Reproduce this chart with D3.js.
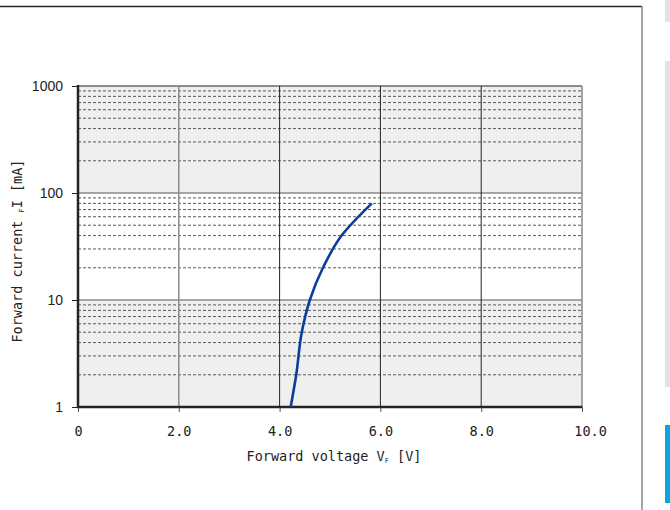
<!DOCTYPE html>
<html>
<head>
<meta charset="utf-8">
<script src="https://cdn.jsdelivr.net/npm/d3@7"></script>
<style>
  body { margin: 0; background: #fff; }
  svg { display: block; }
</style>
</head>
<body>
<div id="chart"></div>
<script>
var svgWidth = 670;
var svgHeight = 510;

// data
var voltage = [4.22, 4.33, 4.44, 4.60, 4.86, 5.23, 5.83];
var current = [1, 2, 5, 10, 20, 40, 80];
var xTicks = [0, 2, 4, 6, 8, 10];
var xTickLabels = ["0", "2.0", "4.0", "6.0", "8.0", "10.0"];
var yTicks = [1, 10, 100, 1000];
var yTickLabels = ["1", "10", "100", "1000"];
var decades = [1, 10, 100];
var bandFills = ["#efefef", "#ffffff", "#efefef"];

var margin = { top: 86, right: 88, bottom: 103, left: 78 };
var width = svgWidth - margin.left - margin.right;
var height = svgHeight - margin.top - margin.bottom;

var monoFont = "'DejaVu Sans Mono', 'Liberation Mono', monospace";

var svg = d3.select("#chart")
  .append("svg")
  .attr("width", svgWidth)
  .attr("height", svgHeight);

// page edges from the scan
svg.append("line")
  .attr("x1", 0).attr("x2", 642).attr("y1", 6.5).attr("y2", 6.5)
  .attr("stroke", "#2a2220").attr("stroke-width", 1.5);
svg.append("line")
  .attr("x1", 642).attr("x2", 642).attr("y1", 6).attr("y2", 510)
  .attr("stroke", "#8a8a8a").attr("stroke-width", 1.5);
svg.append("rect").attr("x", 665).attr("y", 0).attr("width", 5).attr("height", 22).attr("fill", "#e2e2e2");
svg.append("rect").attr("x", 665).attr("y", 61).attr("width", 5).attr("height", 326).attr("fill", "#e2e2e2");
svg.append("rect").attr("x", 665).attr("y", 425).attr("width", 5).attr("height", 78).attr("fill", "#0aa5e3");

var chartGroup = svg.append("g")
  .attr("transform", `translate(${margin.left}, ${margin.top})`);

var xScale = d3.scaleLinear().domain([0, 10]).range([0, width]);
var yScale = d3.scaleLog().domain([1, 1000]).range([height, 0]);

// decade bands
chartGroup.selectAll(".band")
  .data(decades)
  .enter()
  .append("rect")
  .attr("x", 0)
  .attr("y", d => yScale(d * 10))
  .attr("width", width)
  .attr("height", d => yScale(d) - yScale(d * 10))
  .attr("fill", (d, i) => bandFills[i]);

// minor dashed lines 2..9 per decade
var minor = [];
decades.forEach(function(d) {
  for (var k = 2; k <= 9; k++) minor.push(d * k);
});
chartGroup.selectAll(".minor")
  .data(minor)
  .enter()
  .append("line")
  .attr("x1", 0).attr("x2", width)
  .attr("y1", d => yScale(d)).attr("y2", d => yScale(d))
  .attr("stroke", "#5a5a5a")
  .attr("stroke-width", 1)
  .attr("stroke-dasharray", "3,2");

// major horizontal lines
chartGroup.selectAll(".hmajor")
  .data([10, 100])
  .enter()
  .append("line")
  .attr("x1", 0).attr("x2", width)
  .attr("y1", d => yScale(d)).attr("y2", d => yScale(d))
  .attr("stroke", "#8a8a8a")
  .attr("stroke-width", 1.5);

chartGroup.append("line")
  .attr("x1", 0).attr("x2", width)
  .attr("y1", yScale(1000)).attr("y2", yScale(1000))
  .attr("stroke", "#2a2220").attr("stroke-width", 1.2);

// vertical grid
chartGroup.selectAll(".vgrid")
  .data([2, 4, 6, 8, 10])
  .enter()
  .append("line")
  .attr("x1", d => xScale(d)).attr("x2", d => xScale(d))
  .attr("y1", 0).attr("y2", height)
  .attr("stroke", d => (d === 2 || d === 10) ? "#8a8a8a" : "#2a2220")
  .attr("stroke-width", d => (d === 2 || d === 10) ? 1.5 : 1);

// axes
var leftAxis = d3.axisLeft(yScale)
  .tickValues(yTicks)
  .tickSize(6)
  .tickFormat((d, i) => yTickLabels[i]);

var bottomAxis = d3.axisBottom(xScale)
  .tickValues(xTicks)
  .tickSize(5)
  .tickFormat((d, i) => xTickLabels[i]);

var yAxis = chartGroup.append("g").call(leftAxis);
yAxis.select(".domain").remove();
yAxis.selectAll(".tick line").attr("stroke", "#2a2220");
yAxis.selectAll(".tick text")
  .attr("x", -15)
  .attr("dy", "0.32em")
  .attr("font-family", "'Liberation Sans', Arial, sans-serif")
  .attr("font-size", "14px")
  .attr("fill", "#222");

var xAxis = chartGroup.append("g")
  .attr("transform", `translate(0, ${height})`)
  .call(bottomAxis);
xAxis.select(".domain").remove();
xAxis.selectAll(".tick line").attr("stroke", "#555");
xAxis.selectAll(".tick text")
  .attr("y", 19)
  .attr("dx", (d) => d === 10 ? 8 : 0)
  .attr("font-family", monoFont)
  .attr("font-size", "13.5px")
  .attr("fill", "#222");

// axis lines
chartGroup.append("line")
  .attr("x1", 0).attr("x2", 0).attr("y1", -1).attr("y2", height + 1)
  .attr("stroke", "#2a2220").attr("stroke-width", 2.5);
chartGroup.append("line")
  .attr("x1", -1).attr("x2", width).attr("y1", height).attr("y2", height)
  .attr("stroke", "#2a2220").attr("stroke-width", 2.5);

// curve
var points = voltage.map((v, i) => [v, current[i]]);
var line = d3.line()
  .x(d => xScale(d[0]))
  .y(d => yScale(d[1]))
  .curve(d3.curveMonotoneY);

chartGroup.append("path")
  .datum(points)
  .attr("d", line)
  .attr("fill", "none")
  .attr("stroke", "#0a3f99")
  .attr("stroke-width", 2.6)
  .attr("stroke-linejoin", "round");

// axis titles
var xTitle = svg.append("text")
  .attr("x", 334)
  .attr("y", 461)
  .attr("text-anchor", "middle")
  .attr("font-family", monoFont)
  .attr("font-size", "13.5px")
  .attr("fill", "#222");
xTitle.append("tspan").text("Forward voltage V");
xTitle.append("tspan").attr("dy", 2).attr("font-size", "7px").text("F");
xTitle.append("tspan").attr("dy", -2).text(" [V]");

var yTitle = svg.append("text")
  .attr("transform", "translate(22, 251) rotate(-90)")
  .attr("text-anchor", "middle")
  .attr("font-family", monoFont)
  .attr("font-size", "13.5px")
  .attr("fill", "#222");
yTitle.append("tspan").text("Forward current ");
yTitle.append("tspan").attr("font-size", "7px").attr("dy", 2).text("F");
yTitle.append("tspan").attr("dy", -2).text("I [mA]");
</script>
</body>
</html>
